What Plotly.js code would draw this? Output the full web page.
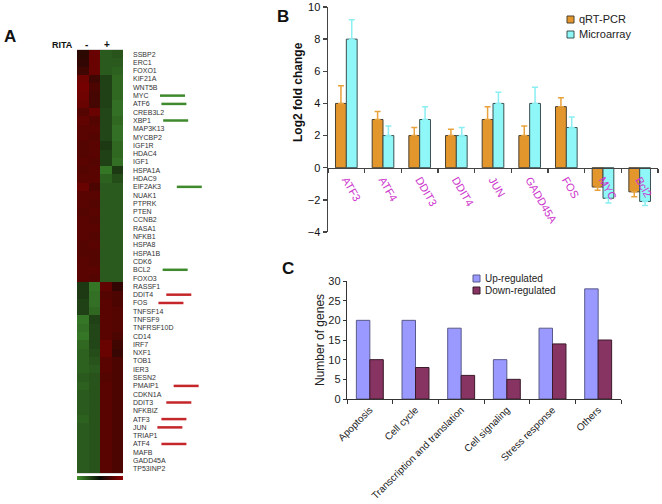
<!DOCTYPE html>
<html><head><meta charset="utf-8">
<script src="https://cdn.plot.ly/plotly-3.0.1.min.js"></script>
<style>html,body{margin:0;padding:0;background:#fff}#chart{width:662px;height:504px}</style>
</head><body><div id="chart"></div>
<script>
// ---------- Panel A: heatmap ----------
const genes = ['SSBP2','ERC1','FOXO1','KIF21A','WNT5B','MYC','ATF6','CREB3L2','XBP1','MAP3K13','MYCBP2','IGF1R','HDAC4','IGF1','HSPA1A','HDAC9','EIF2AK3','NUAK1','PTPRK','PTEN','CCNB2','RASA1','NFKB1','HSPA8','HSPA1B','CDK6','BCL2','FOXO3',
  'RASSF1','DDIT4','FOS','TNFSF14','TNFSF9','TNFRSF10D','CD14','IRF7','NXF1','TOB1','IER3','SESN2','PMAIP1','CDKN1A','DDIT3','NFKBIZ','ATF3','JUN','TRIAP1','ATF4','MAFB','GADD45A','TP53INP2'];
const sampleCols = ['ctrl1','ctrl2','rita1','rita2'];
const ctrl1 = [0.25,0.3,0.4,0.75,0.8,0.75,0.7,0.55,0.65,0.6,0.6,0.55,0.55,0.6,0.55,0.6,0.7,0.6,0.6,0.55,0.6,0.6,0.6,0.55,0.55,0.6,0.6,0.6,
  -0.35,-0.35,-0.4,-0.4,-0.8,-0.75,-0.8,-0.7,-0.65,-0.65,-0.65,-0.6,-0.65,-0.6,-0.6,-0.6,-0.65,-0.6,-0.6,-0.6,-0.6,-0.6,-0.6];
const ctrl2 = [0.7,0.7,0.7,0.4,0.5,0.45,0.45,0.7,0.55,0.6,0.55,0.6,0.6,0.55,0.6,0.6,0.5,0.6,0.55,0.6,0.55,0.6,0.55,0.6,0.55,0.55,0.6,0.55,
  -0.8,-0.75,-0.75,-0.7,-0.4,-0.45,-0.45,-0.45,-0.5,-0.55,-0.6,-0.55,-0.55,-0.55,-0.55,-0.55,-0.55,-0.55,-0.55,-0.55,-0.55,-0.55,-0.55];
const rita1 = [-0.6,-0.6,-0.6,-0.4,-0.4,-0.4,-0.4,-0.45,-0.45,-0.45,-0.45,-0.35,-0.4,-0.4,-0.8,-0.65,-0.6,-0.6,-0.6,-0.6,-0.6,-0.6,-0.6,-0.6,-0.6,-0.6,-0.6,-0.6,
  0.65,0.55,0.6,0.6,0.6,0.6,0.6,0.7,0.7,0.6,0.6,0.55,0.6,0.6,0.6,0.6,0.6,0.6,0.6,0.6,0.6,0.6,0.6];
const rita2 = [-0.55,-0.6,-0.65,-0.7,-0.7,-0.7,-0.75,-0.75,-0.7,-0.75,-0.75,-0.7,-0.7,-0.75,-0.35,-0.5,-0.6,-0.6,-0.6,-0.6,-0.6,-0.6,-0.6,-0.6,-0.6,-0.6,-0.6,-0.6,
  0.3,0.5,0.5,0.55,0.55,0.55,0.5,0.4,0.35,0.5,0.5,0.5,0.5,0.5,0.5,0.5,0.5,0.5,0.5,0.5,0.5,0.5,0.5];
const markedDown = ['MYC','ATF6','XBP1','EIF2AK3','BCL2'];
const markedUp = ['DDIT4','FOS','PMAIP1','DDIT3','ATF3','JUN','ATF4'];

// ---------- Panel B ----------
const bGenes = ['ATF3','ATF4','DDIT3','DDIT4','JUN','GADD45A','FOS','MYC','Bcl2'];
const qpcr = [4, 3, 2, 2, 3, 2, 3.8, -1.2, -1.5];
const qpcrErr = [1.1, 0.5, 0.5, 0.4, 0.8, 0.6, 0.55, 0.2, 0.3];
const micro = [8, 2, 3, 2, 4, 4, 2.5, -1.9, -2.1];
const microErr = [1.2, 0.6, 0.8, 0.5, 0.7, 1.0, 0.65, 0.3, 0.25];
const bYTicks = [-4,-2,0,2,4,6,8,10];

// ---------- Panel C ----------
const cCats = ['Apoptosis','Cell cycle','Transcription and translation','Cell signaling','Stress response','Others'];
const upReg = [20, 20, 18, 10, 18, 28];
const downReg = [10, 8, 6, 5, 14, 15];
const cYTicks = [0,5,10,15,20,25,30];

// ---------- layout helpers ----------
const W = 662, H = 504;
const px = v => v / W;
const py = v => 1 - v / H;
const FONT = '"Liberation Sans", Arial, Helvetica, sans-serif';
const GENE_FS = 7;

const z = genes.map((g,i) => [ctrl1[i], ctrl2[i], rita1[i], rita2[i]]);

const traces = [
  {type:'heatmap', x: sampleCols, y: genes, z: z, xaxis:'x', yaxis:'y',
   zmin:-1, zmax:1, hoverinfo:'skip',
   colorscale:[[0,'#40902e'],[0.5,'#0a0a04'],[1,'#900000']],
   showscale:true,
   colorbar:{orientation:'h', x:px(100), xanchor:'center', y:py(476), yanchor:'top',
             lenmode:'pixels', len:46, thickness:4, showticklabels:false, ticks:'',
             outlinewidth:0, xpad:0, ypad:0, bgcolor:'rgba(0,0,0,0)'}},
  {type:'bar', name:'qRT-PCR', x:bGenes, y:qpcr, xaxis:'x2', yaxis:'y2', showlegend:false,
   marker:{color:'#E3962B', line:{color:'#4a4030', width:1}},
   error_y:{type:'data', symmetric:false,
            array: qpcr.map((v,i)=> v>=0 ? qpcrErr[i] : 0),
            arrayminus: qpcr.map((v,i)=> v<0 ? qpcrErr[i] : 0),
            color:'#E8A23C', thickness:1.5, width:3}},
  {type:'bar', name:'Microarray', x:bGenes, y:micro, xaxis:'x2', yaxis:'y2', showlegend:false,
   marker:{color:'#8FF7F7', line:{color:'#3a5050', width:1}},
   error_y:{type:'data', symmetric:false,
            array: micro.map((v,i)=> v>=0 ? microErr[i] : 0),
            arrayminus: micro.map((v,i)=> v<0 ? microErr[i] : 0),
            color:'#8AEEF2', thickness:1.5, width:3}},
  {type:'bar', name:'Up-regulated', x:cCats, y:upReg, xaxis:'x3', yaxis:'y3', showlegend:false,
   marker:{color:'#9999FF', line:{color:'#5a5a8a', width:1}}},
  {type:'bar', name:'Down-regulated', x:cCats, y:downReg, xaxis:'x3', yaxis:'y3', showlegend:false,
   marker:{color:'#883462', line:{color:'#3a1a2a', width:1}}}
];

// position for B's x axis at y = 0
const bDom = [py(232), py(7)];
const bRange = [-4, 10];
const bZeroPos = bDom[0] + (0 - bRange[0]) / (bRange[1] - bRange[0]) * (bDom[1] - bDom[0]);

// gene marker lines (start just after each label)
const ctx = document.createElement('canvas').getContext('2d');
ctx.font = GENE_FS + 'px "Liberation Sans", Arial';
const labelStart = 134;
const shapes = [];
function addMark(g, color){
  const i = genes.indexOf(g);
  const w = ctx.measureText(g).width;
  const x0 = labelStart + w * 1.35 + 5;
  shapes.push({type:'line', xref:'paper', yref:'y', x0:px(x0), x1:px(x0+25), y0:i, y1:i,
               line:{color:color, width:2.5}});
}
markedDown.forEach(g => addMark(g, '#3f8a2c'));
markedUp.forEach(g => addMark(g, '#c4262a'));

const annotations = [
  {text:'<b>A</b>', x:px(10), y:py(37), font:{size:17}},
  {text:'<b>RITA</b>', x:px(62), y:py(45), font:{size:9}},
  {text:'<b>-</b>', x:px(87), y:py(44), font:{size:10}},
  {text:'<b>+</b>', x:px(107), y:py(44), font:{size:10}},
  {text:'<b>B</b>', x:px(283), y:py(17), font:{size:17}},
  {text:'<b>C</b>', x:px(288), y:py(268), font:{size:17}},
  {text:'<b>Log2 fold change</b>', x:px(298), y:py(92), textangle:-90, font:{size:12}},
  {text:'Number of genes', x:px(320), y:py(340), textangle:-90, font:{size:12, color:'#222'}}
].map(a => Object.assign({xref:'paper', yref:'paper', showarrow:false, xanchor:'center', yanchor:'middle'}, a,
        {font:Object.assign({family:FONT, color:'#111'}, a.font)}));

// legend squares
function legendItem(xl, yc, size, color, border, text, fs){
  shapes.push({type:'rect', xref:'paper', yref:'paper', x0:px(xl), x1:px(xl+size), y0:py(yc+size/2), y1:py(yc-size/2),
               fillcolor:color, line:{color:border, width:1}});
  annotations.push({text:text, xref:'paper', yref:'paper', x:px(xl+size+3), y:py(yc), xanchor:'left', yanchor:'middle',
               showarrow:false, font:{family:FONT, size:fs, color:'#222'}});
}
legendItem(567, 19.5, 7, '#E3962B', '#4a4030', 'qRT-PCR', 11);
legendItem(567, 34.5, 7, '#8FF7F7', '#3a5050', 'Microarray', 11);
legendItem(473, 278.5, 7, '#9999FF', '#5a5a8a', 'Up-regulated', 10);
legendItem(473, 290.5, 7, '#883462', '#3a1a2a', 'Down-regulated', 10);

const layout = {
  width: W, height: H,
  margin:{l:0, r:0, t:0, b:0},
  paper_bgcolor:'#fff', plot_bgcolor:'rgba(0,0,0,0)',
  font:{family:FONT, color:'#111'},
  showlegend:false,
  barmode:'group', bargap:0.41, bargroupgap:0,
  xaxis:{domain:[px(77), px(123)], anchor:'y', showticklabels:false, ticks:'', showgrid:false, zeroline:false,
         showline:true, linecolor:'#d8d8d8', linewidth:1, mirror:true},
  yaxis:{domain:[py(473), py(50)], anchor:'x', type:'category', autorange:'reversed', side:'right',
         tickmode:'array', tickvals:genes, ticktext:genes,
         ticks:'', showgrid:false, zeroline:false, ticklabelstandoff:9,
         tickfont:{family:FONT, size:GENE_FS, color:'#333'}},
  xaxis2:{domain:[px(328), px(658)], anchor:'free', position:bZeroPos, type:'category',
          showline:true, linecolor:'#444', linewidth:1.5, ticks:'outside', tickson:'boundaries',
          ticklen:4, tickcolor:'#444', tickwidth:1.5, tickangle:60, showgrid:false, zeroline:false,
          tickfont:{family:FONT, size:11, color:'#CC33CC'}},
  yaxis2:{domain:bDom, anchor:'x2', range:bRange, tickvals:bYTicks, showline:true, linecolor:'#444', linewidth:1.5,
          ticks:'outside', ticklen:4, tickcolor:'#444', tickwidth:1.5, showgrid:false, zeroline:false,
          tickfont:{family:FONT, size:11, color:'#111'}},
  xaxis3:{domain:[px(347), px(621)], anchor:'y3', type:'category',
          showline:true, linecolor:'#333', linewidth:1.2, ticks:'outside', tickson:'boundaries',
          ticklen:4, tickcolor:'#333', tickangle:-45, showgrid:false, zeroline:false,
          tickfont:{family:FONT, size:10, color:'#222'}},
  yaxis3:{domain:[py(399), py(281)], anchor:'x3', range:[0,30], tickmode:'array', tickvals:cYTicks,
          showticklabels:true, showline:true, linecolor:'#333', linewidth:1.2,
          ticks:'outside', ticklen:3, tickcolor:'#333', showgrid:false, zeroline:false,
          tickfont:{family:FONT, size:11, color:'#222'}},
  shapes: shapes,
  annotations: annotations
};

Plotly.newPlot('chart', traces, layout, {staticPlot:true, displayModeBar:false});
</script>
</body></html>
